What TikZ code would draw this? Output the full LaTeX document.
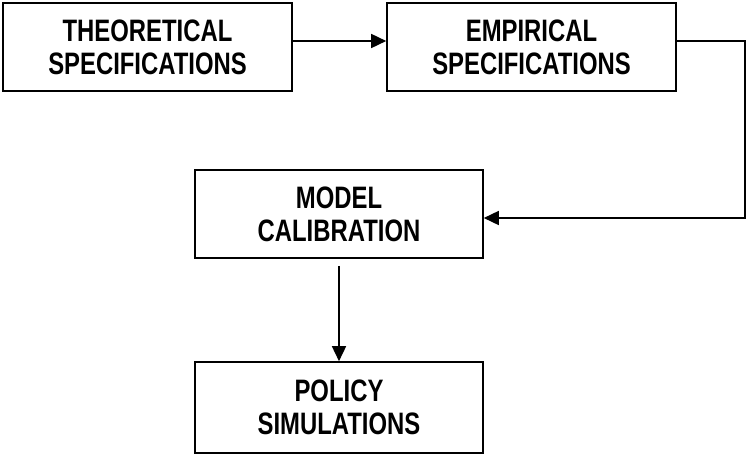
\documentclass[tikz,border=0pt]{standalone}
\usepackage{fontspec}
\setmainfont{Liberation Sans}[FakeStretch=0.77]
\usetikzlibrary{arrows.meta}
\begin{document}
\begin{tikzpicture}[x=1pt,y=-1pt,
  box/.style={draw, line width=1.6pt, rectangle, inner sep=0pt, align=center,
    font=\fontsize{31}{33}\selectfont\bfseries},
  conn/.style={line width=1.6pt},
  arr/.style={conn, -{Triangle[length=15pt,width=14pt]}}]
\useasboundingbox (0,0) rectangle (747,455);
\node[box, minimum width=289pt, minimum height=88pt] (b1) at (147.5,47) {THEORETICAL\\SPECIFICATIONS};
\node[box, minimum width=289pt, minimum height=88pt] (b2) at (531.5,47) {EMPIRICAL\\SPECIFICATIONS};
\node[box, minimum width=288pt, minimum height=88pt] (b3) at (339,214) {MODEL\\CALIBRATION};
\node[box, minimum width=288pt, minimum height=91pt] (b4) at (339,407.5) {POLICY\\SIMULATIONS};
\coordinate (c) at (745,218);
\draw[arr] ([yshift=6pt]b1.east) -- ([yshift=6pt]b2.west);
\draw[arr] ([yshift=6pt]b2.east) -| (c) -- (c -| b3.east);
\draw[arr] ([yshift=-7pt]b3.south) -- (b4.north);
\end{tikzpicture}
\end{document}
